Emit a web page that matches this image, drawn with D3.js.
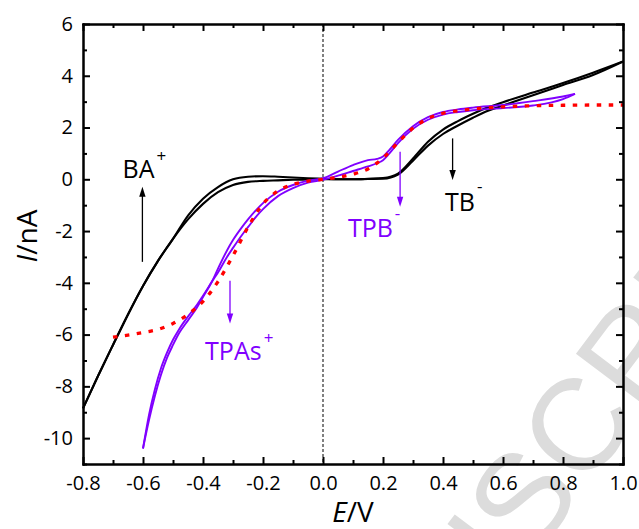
<!DOCTYPE html>
<html>
<head>
<meta charset="utf-8">
<script src="https://cdn.jsdelivr.net/npm/d3@7"></script>
<style>
  body { margin: 0; background: #fff; }
  svg { display: block; }
</style>
</head>
<body>
<svg id="chart" width="639" height="529"></svg>
<script>
// ---- Voltammograms: current I (nA) vs potential E (V) ----

// BA+ / TB- cycle (two sweeps)
const blackE = [-0.8, -0.75, -0.7, -0.65, -0.6, -0.55, -0.5, -0.45, -0.4, -0.35, -0.3, -0.25, -0.2, -0.15, -0.1, -0.05, 0,
                0.05, 0.1, 0.15, 0.2, 0.25, 0.3, 0.35, 0.4, 0.45, 0.5, 0.55, 0.6, 0.7, 0.8, 0.9, 1.0];
const blackSweepA = [-8.85, -7.6, -6.4, -5.22, -4.12, -3.15, -2.3, -1.4, -0.75, -0.3, 0.0, 0.1, 0.12, 0.1, 0.07, 0.04, 0.02,
                     0.0, 0.0, 0.02, 0.05, 0.22, 0.8, 1.45, 1.92, 2.25, 2.53, 2.78, 2.98, 3.35, 3.72, 4.12, 4.55];
const blackSweepB = [-8.85, -7.6, -6.4, -5.22, -4.12, -3.15, -2.3, -1.55, -0.95, -0.5, -0.22, -0.1, -0.06, -0.04, -0.02, -0.01, 0.0,
                     0.0, 0.0, 0.01, 0.02, 0.18, 0.72, 1.3, 1.75, 2.08, 2.38, 2.65, 2.85, 3.25, 3.64, 4.03, 4.55];

// TPAs+ / TPB- cycle (two sweeps)
const purpleE = [-0.6, -0.58, -0.56, -0.54, -0.52, -0.5, -0.48, -0.45, -0.42, -0.4, -0.37, -0.35, -0.32, -0.3, -0.27, -0.25,
                 -0.22, -0.2, -0.15, -0.1, -0.05, 0, 0.05, 0.1, 0.15, 0.18, 0.2, 0.22, 0.25, 0.3, 0.35, 0.4, 0.45, 0.5,
                 0.6, 0.7, 0.8, 0.84];
const purpleSweepA = [-10.4, -9.3, -8.35, -7.55, -6.9, -6.4, -5.95, -5.45, -4.95, -4.55, -3.95, -3.45, -2.75, -2.35, -1.85, -1.55,
                      -1.15, -0.92, -0.48, -0.22, -0.05, 0.04, 0.3, 0.55, 0.74, 0.79, 0.88, 1.12, 1.52, 2.05, 2.4, 2.6, 2.7, 2.77,
                      2.87, 3.02, 3.2, 3.3];
const purpleSweepB = [-10.4, -9.1, -8.1, -7.3, -6.7, -6.2, -5.8, -5.3, -4.85, -4.5, -3.95, -3.6, -3.0, -2.65, -2.15, -1.85,
                      -1.4, -1.15, -0.65, -0.34, -0.13, -0.02, 0.14, 0.32, 0.5, 0.62, 0.74, 0.98, 1.4, 1.95, 2.3, 2.5, 2.6, 2.67,
                      2.75, 2.85, 3.1, 3.3];

// Simulated curve
const fitE = [-0.7, -0.65, -0.6, -0.55, -0.5, -0.45, -0.4, -0.35, -0.3, -0.25, -0.2, -0.15, -0.1, -0.05, 0,
              0.05, 0.1, 0.15, 0.2, 0.25, 0.3, 0.35, 0.4, 0.45, 0.5, 0.6, 0.7, 0.8, 0.9, 1.0];
const fitI = [-6.1, -6.02, -5.92, -5.8, -5.57, -5.22, -4.72, -3.95, -2.95, -1.85, -0.95, -0.45, -0.2, -0.07, 0.0,
              0.08, 0.2, 0.4, 0.82, 1.42, 1.98, 2.35, 2.55, 2.65, 2.72, 2.8, 2.84, 2.86, 2.87, 2.87];

// Axis ticks
const xMajorTicks = [-0.8, -0.6, -0.4, -0.2, 0.0, 0.2, 0.4, 0.6, 0.8, 1.0];
const xMinorTicks = [-0.7, -0.5, -0.3, -0.1, 0.1, 0.3, 0.5, 0.7, 0.9];
const yMajorTicks = [-10, -8, -6, -4, -2, 0, 2, 4, 6];
const yMinorTicks = [-11, -9, -7, -5, -3, -1, 1, 3, 5];

// ---- layout ----
const svg = d3.select("#chart");
const plotLeft = 83, plotRight = 623, plotTop = 24, plotBottom = 464;
const FONT = "'Open Sans', 'Noto Sans', sans-serif";
const PURPLE = "#8000ff";

const x = d3.scaleLinear().domain([-0.8, 1.0]).range([plotLeft, plotRight]);
const y = d3.scaleLinear().domain([-11, 6]).range([plotBottom, plotTop]);

// faint diagonal watermark lettering behind everything
svg.append("text")
  .attr("transform", "translate(302,866) rotate(-53)")
  .attr("font-family", "'Liberation Sans', Arial, sans-serif")
  .attr("font-size", 130)
  .attr("fill", "#dcdcdc")
  .text("MANUSCRIPT");

// zero-potential guide
svg.append("line")
  .attr("x1", x(0)).attr("x2", x(0))
  .attr("y1", y(6)).attr("y2", y(-11))
  .attr("stroke", "#000").attr("stroke-width", 1)
  .attr("stroke-dasharray", "3,2");

// ---- curves ----
const plot = svg.append("g");
const line = d3.line()
  .x(d => x(d[0])).y(d => y(d[1]))
  .curve(d3.curveMonotoneX);

function drawSeries(es, is, color, width, dash) {
  const p = plot.append("path")
    .datum(es.map((e, k) => [e, is[k]]))
    .attr("d", line)
    .attr("fill", "none")
    .attr("stroke", color)
    .attr("stroke-width", width)
    .attr("stroke-linejoin", "round");
  if (dash) p.attr("stroke-dasharray", dash);
  return p;
}

drawSeries(blackE, blackSweepA, "#000", 2.1);
drawSeries(blackE, blackSweepB, "#000", 2.1);
drawSeries(purpleE, purpleSweepA, PURPLE, 1.9);
drawSeries(purpleE, purpleSweepB, PURPLE, 1.9);
drawSeries(fitE, fitI, "#ff0000", 3.3, "4.5,7.5");

// ---- axes (ticks point inward on all four sides) ----
const fmtX = d => d3.format(".1f")(d).replace("\u2212", "-");
const fmtY = d => d3.format("d")(d).replace("\u2212", "-");

function styleAxis(g) {
  g.attr("font-family", FONT).attr("font-size", 20);
  g.select(".domain").attr("stroke-width", 2).attr("stroke-linecap", "square");
  g.selectAll(".tick line").attr("stroke-width", 2);
  g.selectAll(".tick text").attr("fill", "#000");
}

function addAxis(axisFn, scale, ticks, size, transform, fmt, pad) {
  const ax = axisFn(scale).tickValues(ticks).tickSizeInner(-size).tickSizeOuter(0)
    .tickPadding(pad || 0)
    .tickFormat(fmt || (() => ""));
  const g = svg.append("g").attr("transform", transform).call(ax);
  styleAxis(g);
  return g;
}

// minor ticks
addAxis(d3.axisBottom, x, xMinorTicks, 4, `translate(0,${plotBottom})`);
addAxis(d3.axisTop, x, xMinorTicks, 4, `translate(0,${plotTop})`);
addAxis(d3.axisLeft, y, yMinorTicks, 4, `translate(${plotLeft},0)`);
addAxis(d3.axisRight, y, yMinorTicks, 4, `translate(${plotRight},0)`);
// major ticks + labels
addAxis(d3.axisBottom, x, xMajorTicks, 7, `translate(0,${plotBottom})`, fmtX, 12);
addAxis(d3.axisTop, x, xMajorTicks, 7, `translate(0,${plotTop})`);
addAxis(d3.axisLeft, y, yMajorTicks, 7, `translate(${plotLeft},0)`, fmtY, 10);
addAxis(d3.axisRight, y, yMajorTicks, 7, `translate(${plotRight},0)`);

// axis titles
const xt = svg.append("text")
  .attr("x", (plotLeft + plotRight) / 2).attr("y", 522)
  .attr("text-anchor", "middle")
  .attr("font-family", FONT).attr("font-size", 28).attr("fill", "#000");
xt.append("tspan").attr("font-style", "italic").text("E");
xt.append("tspan").text("/V");

const yt = svg.append("text")
  .attr("transform", "translate(37,236) rotate(-90)")
  .attr("text-anchor", "middle")
  .attr("font-family", FONT).attr("font-size", 28).attr("fill", "#000");
yt.append("tspan").attr("font-style", "italic").text("I");
yt.append("tspan").text("/nA");

// ---- arrows marking the ion-transfer waves ----
const arrows = [
  { e: -0.602, from: -3.19, to: -0.29, color: "#000" },
  { e: 0.432, from: 1.58, to: -0.03, color: "#000" },
  { e: -0.31, from: -3.92, to: -5.57, color: PURPLE },
  { e: 0.257, from: 1.06, to: -1.06, color: PURPLE }
];
arrows.forEach(a => {
  const ax = x(a.e), y0 = y(a.from), y1 = y(a.to);
  const dir = Math.sign(y1 - y0);
  const headLen = 10, halfW = 3.2;
  svg.append("line")
    .attr("x1", ax).attr("x2", ax)
    .attr("y1", y0).attr("y2", y1 - dir * (headLen - 1))
    .attr("stroke", a.color).attr("stroke-width", 1.3);
  svg.append("path")
    .attr("d", `M${ax},${y1}L${ax - halfW},${y1 - dir * headLen}L${ax + halfW},${y1 - dir * headLen}Z`)
    .attr("fill", a.color);
});

// ---- ion labels ----
const labels = [
  { text: "BA", sup: "+", e: -0.668, i: 0.04, color: "#000", rise: -16 },
  { text: "TB", sup: "-", e: 0.407, i: -1.22, color: "#000", rise: -19 },
  { text: "TPB", sup: "-", e: 0.083, i: -2.23, color: PURPLE, rise: -18 },
  { text: "TPAs", sup: "+", e: -0.393, i: -6.99, color: PURPLE, rise: -16 }
];
labels.forEach(l => {
  const t = svg.append("text")
    .attr("x", x(l.e)).attr("y", y(l.i))
    .attr("font-family", FONT).attr("font-size", 25)
    .attr("fill", l.color);
  t.append("tspan").text(l.text);
  t.append("tspan").attr("dx", 2).attr("dy", l.rise).attr("font-size", 17).text(l.sup);
});
</script>
</body>
</html>
